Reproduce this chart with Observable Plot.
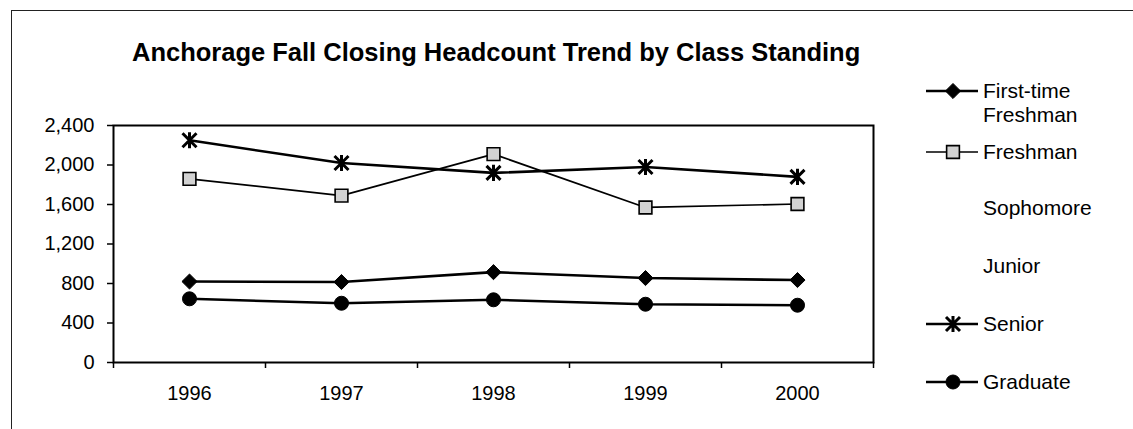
<!DOCTYPE html>
<html>
<head>
<meta charset="utf-8">
<script src="https://cdn.jsdelivr.net/npm/d3@7"></script>
<script src="https://cdn.jsdelivr.net/npm/@observablehq/plot@0.6"></script>
<style>
  html, body { margin: 0; padding: 0; background: #fff; }
  #wrap { position: relative; width: 1133px; height: 429px; overflow: hidden; font-family: "Liberation Sans", Arial, sans-serif; color: #000; }
  #border { position: absolute; left: 11px; top: 10px; width: 1200px; height: 500px; border: 1.5px solid #222; box-sizing: border-box; }
  #title { position: absolute; left: 132px; top: 38px; font-size: 25.5px; font-weight: bold; white-space: nowrap; }
  #chart { position: absolute; left: 0; top: 0; }
  .leg { position: absolute; left: 926px; display: flex; align-items: flex-start; font-size: 21px; line-height: 24px; }
  .leg svg { display: block; margin-right: 5px; }
</style>
</head>
<body>
<div id="wrap">
  <div id="border"></div>
  <div id="chart"></div>
  <div id="title"></div>
  <div id="legend"></div>
</div>
<script>
// ---- data ----
const title = "Anchorage Fall Closing Headcount Trend by Class Standing";
const years = [1996, 1997, 1998, 1999, 2000];
const seriesNames = ["First-time Freshman", "Freshman", "Sophomore", "Junior", "Senior", "Graduate"];
const firstTimeFreshman = [820, 815, 915, 855, 835];
const freshman = [1860, 1690, 2110, 1570, 1605];
const sophomore = [];
const junior = [];
const senior = [2250, 2020, 1920, 1980, 1880];
const graduate = [645, 600, 635, 590, 580];
const yTicks = [0, 400, 800, 1200, 1600, 2000, 2400];

// ---- styles ----
const star = {
  draw(context, size) {
    const r = Math.sqrt(size / Math.PI);
    context.moveTo(-r, -r); context.lineTo(r, r);
    context.moveTo(-r, r); context.lineTo(r, -r);
    context.moveTo(0, -r * 1.15); context.lineTo(0, r * 1.15);
  }
};
const styles = {
  "First-time Freshman": {symbol: "diamond2", r: 6.8, fill: "#000", stroke: "#000", sw: 1, lw: 2.6},
  "Freshman": {symbol: "square", r: 7.2, fill: "#d2d2d2", stroke: "#000", sw: 1.6, lw: 1.7},
  "Sophomore": null,
  "Junior": null,
  "Senior": {symbol: star, r: 7, fill: "none", stroke: "#000", sw: 3, lw: 2.6},
  "Graduate": {symbol: "circle", r: 7, fill: "#000", stroke: "#000", sw: 1, lw: 2.6}
};
const seriesValues = [firstTimeFreshman, freshman, sophomore, junior, senior, graduate];

document.getElementById("title").textContent = title;

const marks = [
  Plot.frame({stroke: "#000", strokeWidth: 2}),
  Plot.axisY({ticks: yTicks, tickSize: 6, tickPadding: 13, tickFormat: d3.format(","), fontSize: 20, strokeWidth: 1.5, label: null}),
  Plot.axisX({ticks: [...years.map(y => y - 0.5), years[years.length - 1] + 0.5], tickSize: 6, tickFormat: () => "", strokeWidth: 1.5, label: null}),
  Plot.axisX({ticks: years, tickSize: 0, tickPadding: 23, tickFormat: d => String(d), fontSize: 20, label: null})
];
seriesNames.forEach((name, i) => {
  const st = styles[name];
  const vals = seriesValues[i];
  if (!st || vals.length === 0) return;
  const rows = vals.map((v, j) => ({year: years[j], value: v}));
  marks.push(Plot.line(rows, {x: "year", y: "value", stroke: "#000", strokeWidth: st.lw}));
  marks.push(Plot.dot(rows, {x: "year", y: "value", symbol: st.symbol, r: st.r, fill: st.fill, stroke: st.stroke, strokeWidth: st.sw}));
});

const chart = Plot.plot({
  width: 1133,
  height: 429,
  marginLeft: 113,
  marginRight: 260,
  marginTop: 125,
  marginBottom: 67,
  style: {fontFamily: "'Liberation Sans', Arial, sans-serif", fontSize: "20px", color: "#000", background: "transparent"},
  x: {type: "linear", domain: [years[0] - 0.5, years[years.length - 1] + 0.5], axis: null, label: null},
  y: {domain: [0, 2400], axis: null, label: null},
  marks
});
document.getElementById("chart").appendChild(chart);

// ---- legend ----
const legendRowY = [91, 152, 208, 266, 324, 382];
const legend = d3.select("#legend");
const symbolTypes = {diamond2: d3.symbolDiamond2, square: d3.symbolSquare, circle: d3.symbolCircle};
seriesNames.forEach((name, i) => {
  const st = styles[name];
  const row = legend.append("div").attr("class", "leg").style("top", (legendRowY[i] - 12) + "px");
  const svg = row.append("svg").attr("width", 52).attr("height", 24);
  if (st) {
    svg.append("line").attr("x1", 0).attr("x2", 52).attr("y1", 12).attr("y2", 12)
      .attr("stroke", "#000").attr("stroke-width", st.lw);
    const symType = typeof st.symbol === "string" ? symbolTypes[st.symbol] : st.symbol;
    svg.append("path").attr("transform", "translate(27,12)")
      .attr("d", d3.symbol(symType, Math.PI * st.r * st.r)())
      .attr("fill", st.fill).attr("stroke", st.stroke).attr("stroke-width", st.sw);
  }
  const label = row.append("div");
  if (name === "First-time Freshman") label.html("First-time<br>Freshman");
  else label.text(name);
});
</script>
</body>
</html>
